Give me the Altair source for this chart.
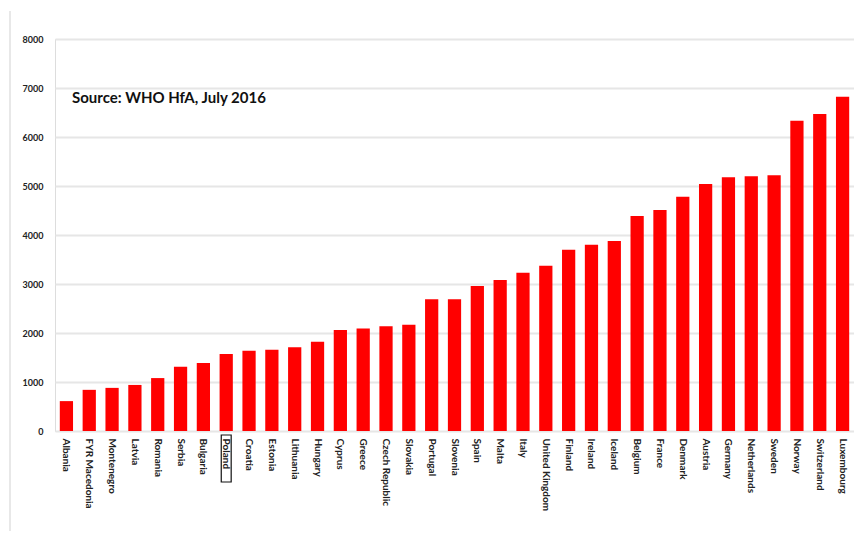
import altair as alt
import pandas as pd

countries = ["Albania", "FYR Macedonia", "Montenegro", "Latvia", "Romania", "Serbia",
             "Bulgaria", "Poland", "Croatia", "Estonia", "Lithuania", "Hungary", "Cyprus",
             "Greece", "Czech Republic", "Slovakia", "Portugal", "Slovenia", "Spain", "Malta",
             "Italy", "United Kingdom", "Finland", "Ireland", "Iceland", "Belgium", "France",
             "Denmark", "Austria", "Germany", "Netherlands", "Sweden", "Norway", "Switzerland",
             "Luxembourg"]
values = [610, 840, 880, 940, 1080, 1310, 1390, 1570, 1640, 1660, 1710, 1820, 2060,
          2090, 2140, 2170, 2690, 2690, 2960, 3080, 3230, 3370, 3700, 3800, 3880, 4390,
          4510, 4780, 5040, 5180, 5200, 5220, 6330, 6470, 6820]
y_ticks = [0, 1000, 2000, 3000, 4000, 5000, 6000, 7000, 8000]
source_note = "Source: WHO HfA, July 2016"
highlight = "Poland"

df = pd.DataFrame({"country": countries, "value": values})

FONT = "Lato"

x_enc = alt.X("country:N", sort=countries, title=None,
              scale=alt.Scale(paddingInner=0.42, paddingOuter=0.21),
              axis=alt.Axis(labelAngle=90, labelFontSize=10, labelFont=FONT,
                            labelFontWeight="bold", labelColor="#222222",
                            labelPadding=7, ticks=False, domain=False,
                            labelOverlap=False, labelLimit=200))

bars = alt.Chart(df).mark_bar(color="#ff0000").encode(
    x=x_enc,
    y=alt.Y("value:Q", title=None,
            scale=alt.Scale(domain=[0, 8000], nice=False),
            axis=alt.Axis(values=y_ticks, format="d", labelFontSize=9, labelFont=FONT,
                          labelFontWeight="bold", labelColor="#222222",
                          labelPadding=12, ticks=False, domain=False,
                          gridColor="#e6e6e6", gridWidth=2)),
)

box = alt.Chart(pd.DataFrame({"country": [highlight]})).mark_bar(
    fill=None, stroke="#111111", strokeWidth=1.2,
    width=alt.RelativeBandSize(0.75)
).encode(
    x=alt.X("country:N", sort=countries),
    y=alt.value(396),
    y2=alt.value(443),
)

note = alt.Chart(pd.DataFrame({"t": [source_note]})).mark_text(
    font=FONT, fontSize=15, fontWeight="bold", color="#111111", align="left", baseline="middle"
).encode(text="t:N", x=alt.value(17), y=alt.value(59))

border = alt.Chart(pd.DataFrame({"a": [0]})).mark_rule(color="#e0e0e0", strokeWidth=1.5).encode(
    x=alt.value(-45), y=alt.value(-28), y2=alt.value(520)
)

chart = alt.layer(bars, box, note, border).properties(
    width=799, height=392,
    autosize=alt.AutoSizeParams(type="none"),
    padding={"left": 47, "top": 31, "right": 0, "bottom": 100},
).configure_view(stroke=None).configure(background="white")

chart.save("out.html", embed_options={"renderer": "svg", "actions": False})
